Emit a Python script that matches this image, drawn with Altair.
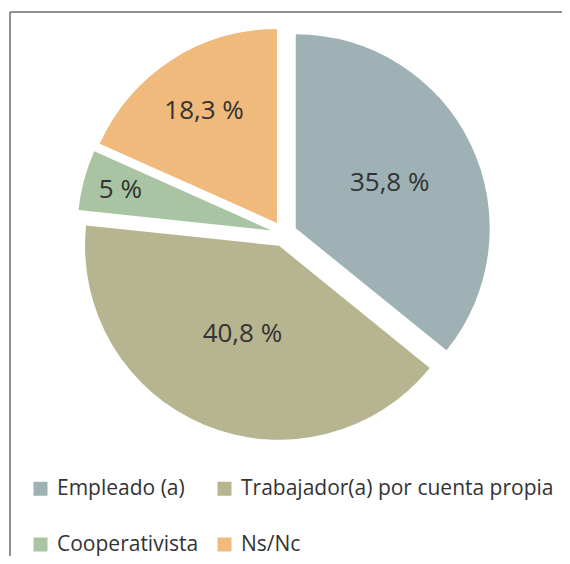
import altair as alt
import pandas as pd

categories = ["Empleado (a)", "Trabajador(a) por cuenta propia", "Cooperativista", "Ns/Nc"]
values = [35.8, 40.8, 5.0, 18.3]
labels = ["35,8 %", "40,8 %", "5 %", "18,3 %"]
colors = ["#9EB2B5", "#B7B58F", "#A8C4A2", "#EFBA7C"]

df = pd.DataFrame({"cat": categories, "value": values, "label": labels, "order": list(range(len(categories)))})

CX, CY, EXPLODE, R = 276.0, 225.8, 13.0, 194
FONT = "Open Sans"

base = (
    alt.Chart(df)
    .transform_window(cum="sum(value)", sort=[alt.SortField("order")], frame=[None, 0])
    .transform_joinaggregate(total="sum(value)")
    .transform_calculate(
        t0="2*PI*(datum.cum - datum.value)/datum.total",
        t1="2*PI*datum.cum/datum.total",
        mid="2*PI*(datum.cum - datum.value/2)/datum.total",
        frac="datum.value/datum.total",
    )
    .transform_calculate(
        cx=f"{CX} + {EXPLODE}*sin(datum.mid)",
        cy=f"{CY} - {EXPLODE}*cos(datum.mid)",
        lr="165 - 170*datum.frac",
    )
    .transform_calculate(
        lx="datum.cx + datum.lr*sin(datum.mid)",
        ly="datum.cy - datum.lr*cos(datum.mid)",
    )
)

pie = base.mark_arc(outerRadius=R, stroke=None).encode(
    x=alt.X("cx:Q", scale=None, axis=None),
    y=alt.Y("cy:Q", scale=None, axis=None),
    theta=alt.Theta("t0:Q", scale=None),
    theta2="t1:Q",
    color=alt.Color(
        "cat:N",
        scale=alt.Scale(domain=categories, range=colors),
        legend=alt.Legend(
            title=None,
            orient="none",
            direction="horizontal",
            legendX=22,
            legendY=470,
            columns=2,
            symbolType="square",
            symbolSize=196,
            symbolStrokeWidth=0,
            labelFont=FONT,
            labelFontSize=21,
            labelColor="#333333",
            labelOffset=6,
            labelLimit=0,
            columnPadding=15,
            rowPadding=34,
        ),
    ),
)

text = base.mark_text(font=FONT, fontSize=26, color="#333333", align="center", baseline="middle").encode(
    x=alt.X("lx:Q", scale=None, axis=None),
    y=alt.Y("ly:Q", scale=None, axis=None),
    text="label:N",
)

frame_df = pd.DataFrame({"k": [0]})
top_line = alt.Chart(frame_df).mark_rule(color="#6b6b6b", strokeWidth=1.5).encode(
    x=alt.value(2), x2=alt.value(554), y=alt.value(4)
)
left_line = alt.Chart(frame_df).mark_rule(color="#6b6b6b", strokeWidth=1.5).encode(
    x=alt.value(2), y=alt.value(4), y2=alt.value(548)
)

chart = (
    alt.layer(pie, text, top_line, left_line)
    .properties(width=554, height=548, autosize="none", padding=0)
    .configure_view(stroke=None)
)

chart.save("out.html", embed_options={"renderer": "svg", "actions": False})
